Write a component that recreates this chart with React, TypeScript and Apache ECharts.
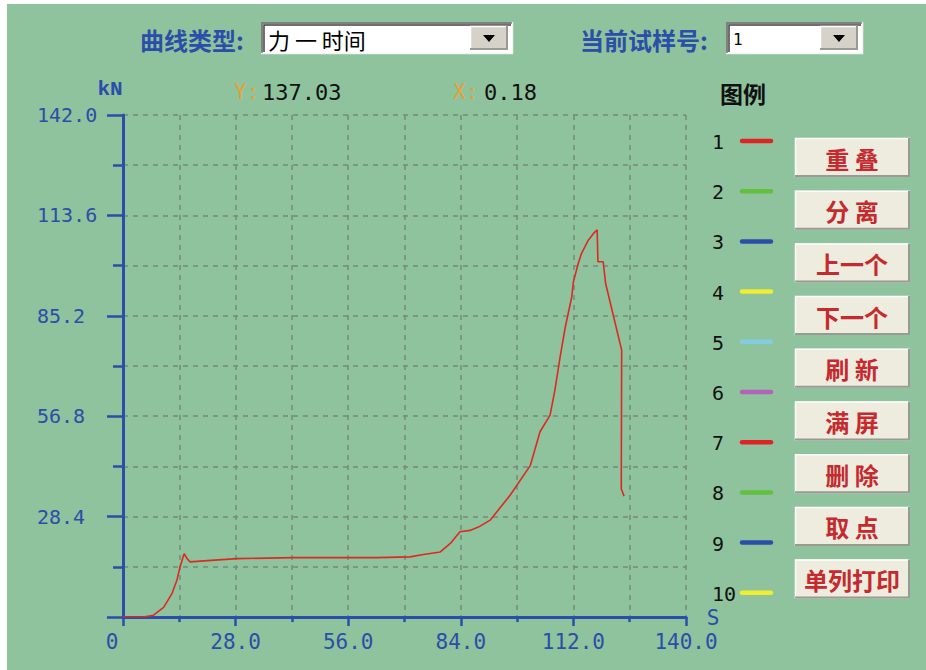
import React, { useEffect, useRef } from "react";
import * as echarts from "echarts";

// ---- data ----
const timeS = [0, 5, 7.6, 10.1, 12.2, 13.4, 14.2, 15.2, 16.0, 16.7, 19.2, 28.3, 42.3, 63.1, 71.4, 74.7, 78.9, 81.4, 83.8, 86.3, 88.5, 91.3, 96.3, 101.3, 103.7, 106.2, 107.4, 108.7, 110, 111.6, 112, 113.2, 114, 115.7, 117, 117.9, 118.1, 119.4, 120, 124, 123.9, 124.6];
const forceKN = [0, 0, 0.5, 2.7, 6.7, 10.4, 14.2, 17.9, 16.4, 15.6, 15.8, 16.5, 16.8, 16.8, 17.0, 17.7, 18.4, 20.8, 24.1, 24.5, 25.5, 27.4, 34.5, 42.9, 52.4, 57.1, 64.2, 73.6, 82.1, 90.6, 94.8, 100, 102.8, 106.6, 108.5, 109.5, 100.5, 100.5, 94.4, 75.5, 36.3, 34.2];

const xMax = 140;
const xStep = 28;
const yMax = 142;
const yStep = 28.4;

const legendNames = ["1", "2", "3", "4", "5", "6", "7", "8", "9", "10"];
const legendColors = ["#e02424", "#62c040", "#2a4fa8", "#f0ee30", "#86cce0", "#b464b8", "#e02424", "#62c040", "#2a4fa8", "#f0ee30"];
const buttonLabels = ["重 叠", "分 离", "上一个", "下一个", "刷 新", "满 屏", "删 除", "取 点", "单列打印"];

const curveTypeLabel = "曲线类型:";
const curveTypeValue = "力 一 时间";
const sampleLabel = "当前试样号:";
const sampleValue = "1";
const readoutY = "137.03";
const readoutX = "0.18";

const BLUE = "#2b4ea8";
const BG = "#8fc39d";
const MONO = "'DejaVu Sans Mono', 'Liberation Mono', monospace";
const CJK = "'Noto Sans CJK SC', sans-serif";

function raisedBox(x: number, y: number, w: number, h: number, fill: string): any[] {
  return [
    { type: "rect", shape: { x, y, width: w, height: h }, style: { fill } },
    { type: "polyline", shape: { points: [[x + 0.5, y + h], [x + 0.5, y + 0.5], [x + w, y + 0.5]] }, style: { stroke: "#ffffff", lineWidth: 1.5, fill: "none" } },
    { type: "polyline", shape: { points: [[x, y + h - 1], [x + w - 1, y + h - 1], [x + w - 1, y]] }, style: { stroke: "#9a9a92", lineWidth: 2, fill: "none" } },
  ];
}

function combo(x: number, y: number, w: number, h: number, text: string, textSize: number, textFont: string): any[] {
  const bx = x + w - 43;
  const by = y + 4;
  const bw = 38;
  const bh = h - 8;
  const cx = bx + bw / 2;
  const cy = by + bh / 2;
  return [
    { type: "rect", shape: { x, y, width: w, height: h }, style: { fill: "#ffffff" } },
    { type: "polyline", shape: { points: [[x + 1, y + h], [x + 1, y + 1], [x + w, y + 1]] }, style: { stroke: "#808080", lineWidth: 2, fill: "none" } },
    { type: "polyline", shape: { points: [[x + 3, y + h - 2], [x + 3, y + 3], [x + w - 2, y + 3]] }, style: { stroke: "#404040", lineWidth: 1.5, fill: "none" } },
    { type: "polyline", shape: { points: [[x, y + h - 0.5], [x + w - 0.5, y + h - 0.5], [x + w - 0.5, y]] }, style: { stroke: "#f4f4f4", lineWidth: 1.5, fill: "none" } },
    ...raisedBox(bx, by, bw, bh, "#d6d2ca"),
    { type: "polygon", shape: { points: [[cx - 6, cy - 3], [cx + 6, cy - 3], [cx, cy + 4]] }, style: { fill: "#000000" } },
    { type: "text", x: x + 7, y: y + h / 2 + 1, style: { text, fill: "#000000", fontSize: textSize, fontFamily: textFont, verticalAlign: "middle", align: "left" } },
  ];
}

export default function App() {
  const ref = useRef<HTMLDivElement>(null);
  useEffect(() => {
    if (!ref.current) return;
    const chart = echarts.init(ref.current, undefined, { renderer: "svg" });
    const data = timeS.map((t, i) => [t, forceKN[i]]);

    const graphics: any[] = [];
    // white margin strips
    graphics.push({ type: "rect", shape: { x: 0, y: 0, width: 7, height: 670 }, style: { fill: "#ffffff" }, z: -10 });
    graphics.push({ type: "rect", shape: { x: 0, y: 0, width: 926, height: 4 }, style: { fill: "#ffffff" }, z: -10 });

    // header
    graphics.push({ type: "text", x: 140, y: 39, style: { text: curveTypeLabel, fill: BLUE, fontSize: 24, fontFamily: CJK, fontWeight: "bold", verticalAlign: "middle" } });
    graphics.push(...combo(261, 22, 252, 32, curveTypeValue, 22, CJK));
    graphics.push({ type: "text", x: 580, y: 39, style: { text: sampleLabel, fill: BLUE, fontSize: 24, fontFamily: CJK, fontWeight: "bold", verticalAlign: "middle" } });
    graphics.push(...combo(726, 22, 137, 32, sampleValue, 16, MONO));

    // axis names & readouts
    graphics.push({ type: "text", x: 110, y: 89, style: { text: "kN", fill: BLUE, fontSize: 21, fontFamily: "'Liberation Mono', monospace", fontWeight: "bold", align: "center", verticalAlign: "middle" } });
    graphics.push({ type: "text", x: 234, y: 92, style: { text: "Y:", fill: "#e8a038", fontSize: 21, fontFamily: MONO, verticalAlign: "middle" } });
    graphics.push({ type: "text", x: 262, y: 92, style: { text: readoutY, fill: "#111111", fontSize: 22, fontFamily: MONO, verticalAlign: "middle" } });
    graphics.push({ type: "text", x: 453, y: 92, style: { text: "X:", fill: "#e8a038", fontSize: 21, fontFamily: MONO, verticalAlign: "middle" } });
    graphics.push({ type: "text", x: 484, y: 92, style: { text: readoutX, fill: "#111111", fontSize: 22, fontFamily: MONO, verticalAlign: "middle" } });
    graphics.push({ type: "text", x: 713, y: 618, style: { text: "S", fill: BLUE, fontSize: 21, fontFamily: MONO, align: "center", verticalAlign: "middle" } });

    // legend
    graphics.push({ type: "text", x: 743, y: 93, style: { text: "图例", fill: "#111111", fontSize: 23, fontFamily: CJK, fontWeight: "bold", align: "center", verticalAlign: "middle" } });
    legendNames.forEach((n, i) => {
      const y = 141 + i * 50.2;
      graphics.push({ type: "text", x: 712, y: y + 1, style: { text: n, fill: "#111111", fontSize: 20, fontFamily: MONO, verticalAlign: "middle" } });
      graphics.push({ type: "line", shape: { x1: 742, y1: y, x2: 771, y2: y }, style: { stroke: legendColors[i], lineWidth: 4.5, lineCap: "round" } });
    });

    // buttons
    buttonLabels.forEach((b, i) => {
      const y = 138 + i * 52.7;
      graphics.push(...raisedBox(795, y, 115, 39, "#eeebdf"));
      graphics.push({ type: "text", x: 852, y: y + 20, style: { text: b, fill: "#c42a2e", fontSize: 24, fontFamily: CJK, fontWeight: "bold", align: "center", verticalAlign: "middle" } });
    });

    const gridLine = { show: true, lineStyle: { color: "#768a7a", width: 1.5, type: [5, 5] as any } };

    chart.setOption({
      animation: false,
      backgroundColor: BG,
      grid: { left: 123, top: 115, width: 563, height: 502 },
      xAxis: {
        type: "value",
        min: 0,
        max: xMax,
        interval: xStep,
        axisLine: { show: true, onZero: false, lineStyle: { color: BLUE, width: 3 } },
        axisTick: { show: true, length: 9, lineStyle: { color: BLUE, width: 2.5 } },
        minorTick: { show: true, splitNumber: 2, length: 5, lineStyle: { color: BLUE, width: 2.5 } },
        splitLine: gridLine,
        minorSplitLine: gridLine,
        axisLabel: {
          color: BLUE,
          fontSize: 21,
          fontFamily: MONO,
          margin: 14,
          formatter: (v: number) => (v === 0 ? "{z|0}" : v.toFixed(1)),
          rich: { z: { color: BLUE, fontSize: 21, fontFamily: MONO, padding: [0, 22, 0, 0] } },
        },
      },
      yAxis: {
        type: "value",
        min: 0,
        max: yMax,
        interval: yStep,
        axisLine: { show: true, onZero: false, lineStyle: { color: BLUE, width: 3 } },
        axisTick: { show: true, length: 16, lineStyle: { color: BLUE, width: 2.5 } },
        minorTick: { show: true, splitNumber: 2, length: 10, lineStyle: { color: BLUE, width: 2.5 } },
        splitLine: gridLine,
        minorSplitLine: gridLine,
        axisLabel: {
          color: BLUE,
          fontSize: 20,
          fontFamily: MONO,
          align: "left",
          margin: 86,
          formatter: (v: number) => (v === 0 ? "" : v.toFixed(1)),
        },
      },
      series: [
        {
          type: "line",
          data,
          showSymbol: false,
          lineStyle: { color: "#dc2a22", width: 1.6 },
          z: 5,
        },
      ],
      graphic: graphics,
    });
    return () => chart.dispose();
  }, []);
  return <div ref={ref} style={{ position: "fixed", left: 0, top: 0, width: 926, height: 670 }} />;
}
